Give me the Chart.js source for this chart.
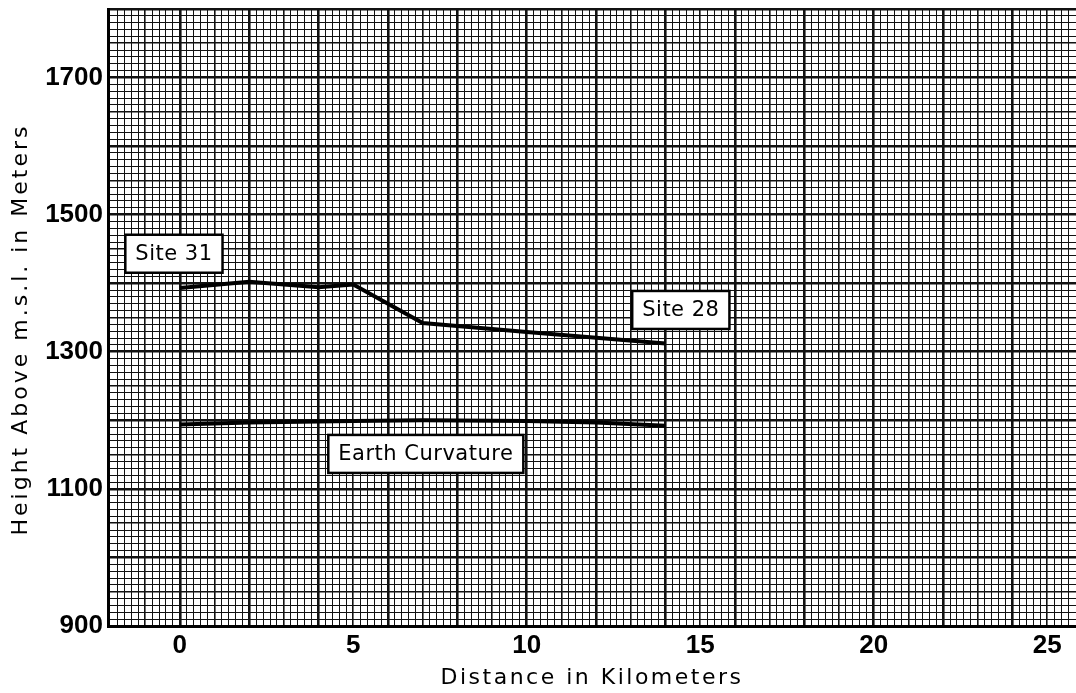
<!DOCTYPE html>
<html>
<head>
<meta charset="utf-8">
<script src="https://cdn.jsdelivr.net/npm/chart.js@4.4.1/dist/chart.umd.min.js"></script>
<style>
    html, body { margin: 0; padding: 0; background: #fff; }
    #wrap { width: 1076px; height: 693px; }
</style>
</head>
<body>
<div id="wrap"><canvas id="profileChart"></canvas></div>
<script>
// path profile between the two sites
const distanceKm = [0, 2, 4, 5, 7, 10, 14];
const profileHeight = [1393, 1402, 1394, 1398, 1342, 1329, 1312];

// earth curvature reference line
const curveKm = [0, 2, 5, 7, 10, 12, 14];
const curveHeight = [1194, 1197, 1199, 1200, 1199, 1197, 1192];

const xTickLabels = [0, 5, 10, 15, 20, 25];
const yTickLabels = [900, 1100, 1300, 1500, 1700];
const boxTexts = ["Site 31", "Site 28", "Earth Curvature"];

const tickFont = { family: "'Liberation Sans', Arial", size: 26, weight: "bold" };
const titleFont = { family: "'DejaVu Sans'", size: 22 };

const isMult = (v, s) => Math.abs(v / s - Math.round(v / s)) < 1e-6;

function gridWidth(v, major, mid) {
    if (isMult(v, major)) return 2.6;
    if (isMult(v, mid)) return 1.6;
    return 1;
}

// wider letter spacing for the axis titles only
const baseDrawTitle = Chart.Scale.prototype.drawTitle;
Chart.Scale.prototype.drawTitle = function () {
    this.ctx.save();
    if (this.axis === "y") {
        this.ctx.letterSpacing = "3px";
        this.ctx.translate(0, 12);
    } else {
        this.ctx.letterSpacing = "2.5px";
    }
    baseDrawTitle.call(this);
    this.ctx.restore();
};

// boxed labels on the graph paper
const labelBoxes = {
    id: "labelBoxes",
    afterDatasetsDraw(chart, args, opts) {
        const ctx = chart.ctx;
        const xs = chart.scales.x;
        const ys = chart.scales.y;
        ctx.save();
        ctx.font = "21px 'DejaVu Sans'";
        ctx.letterSpacing = "0.5px";
        ctx.textAlign = "center";
        ctx.textBaseline = "middle";
        opts.places.forEach((p, i) => {
            const text = boxTexts[i];
            const cx = xs.getPixelForValue(p.x);
            const cy = ys.getPixelForValue(p.y);
            const w = ctx.measureText(text).width + 20;
            const h = 38;
            ctx.fillStyle = "#fff";
            ctx.fillRect(cx - w / 2, cy - h / 2, w, h);
            ctx.lineWidth = 2.5;
            ctx.strokeStyle = "#000";
            ctx.strokeRect(cx - w / 2, cy - h / 2, w, h);
            ctx.fillStyle = "#000";
            ctx.fillText(text, cx, cy + 1);
        });
        ctx.restore();
    }
};

const canvas = document.getElementById("profileChart");

new Chart(canvas, {
    type: "line",
    data: {
        datasets: [{
            data: distanceKm.map((x, i) => ({ x: x, y: profileHeight[i] })),
            borderColor: "#000",
            borderWidth: 4,
            pointRadius: 0,
            tension: 0
        }, {
            data: curveKm.map((x, i) => ({ x: x, y: curveHeight[i] })),
            borderColor: "#000",
            borderWidth: 4,
            pointRadius: 0,
            tension: 0
        }]
    },
    options: {
        responsive: true,
        maintainAspectRatio: false,
        animation: false,
        layout: { padding: { top: 9, right: 0, left: 0, bottom: 0 } },
        plugins: {
            legend: { display: false },
            tooltip: { enabled: false },
            labelBoxes: {
                places: [
                    { x: -0.17, y: 1443 },
                    { x: 14.44, y: 1361 },
                    { x: 7.09, y: 1151 }
                ]
            }
        },
        scales: {
            x: {
                type: "linear",
                min: -2.07,
                max: 25.83,
                afterFit: s => {
                    s.height = 67;
                    s.paddingLeft = 0;
                    s.paddingRight = 0;
                },
                border: { display: true, color: "#000", width: 3 },
                grid: {
                    drawTicks: false,
                    color: "#111",
                    lineWidth: c => gridWidth(c.tick.value, 2, 1)
                },
                ticks: {
                    stepSize: 0.2,
                    autoSkip: false,
                    maxRotation: 0,
                    padding: 4,
                    color: "#000",
                    font: tickFont,
                    callback: v => {
                        const t = xTickLabels.find(t => Math.abs(t - v) < 1e-6);
                        return t === undefined ? "" : String(t);
                    }
                },
                title: {
                    display: true,
                    text: "Distance in Kilometers",
                    color: "#000",
                    font: titleFont,
                    padding: { top: 0, bottom: 2 }
                }
            },
            y: {
                type: "linear",
                min: 900,
                max: 1800,
                afterFit: s => {
                    s.width = 108;
                    s.paddingTop = 0;
                    s.paddingBottom = 0;
                },
                border: { display: true, color: "#000", width: 3 },
                grid: {
                    drawTicks: false,
                    color: "#111",
                    lineWidth: c => gridWidth(c.tick.value, 100, 50)
                },
                ticks: {
                    stepSize: 10,
                    autoSkip: false,
                    padding: 5,
                    color: "#000",
                    font: tickFont,
                    callback: v => yTickLabels.includes(v) ? String(v) : ""
                },
                title: {
                    display: true,
                    text: "Height Above m.s.l. in Meters",
                    color: "#000",
                    font: titleFont,
                    padding: { top: 8, bottom: 0 }
                }
            }
        }
    },
    plugins: [labelBoxes]
});
</script>
</body>
</html>
